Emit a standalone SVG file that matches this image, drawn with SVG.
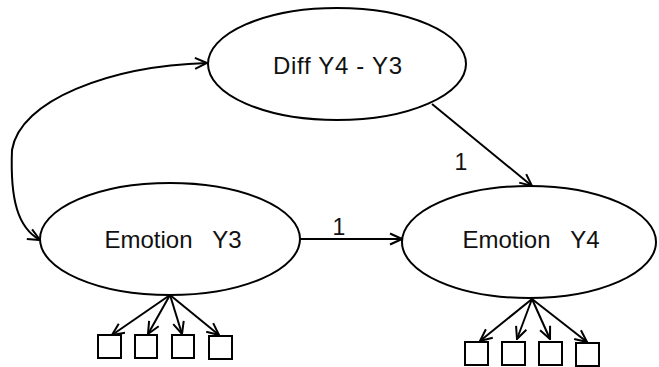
<svg xmlns="http://www.w3.org/2000/svg" width="659" height="367" viewBox="0 0 659 367">
<style>
.n{fill:#fff;stroke:#000;stroke-width:2}
.t{font-family:"Liberation Sans",Arial,sans-serif;font-size:24px;fill:#111;text-anchor:middle}
.l{font-family:"Liberation Sans",Arial,sans-serif;font-size:23px;fill:#111;text-anchor:middle}
.c{fill:none;stroke:#000;stroke-width:2}
.b{fill:#fff;stroke:#000;stroke-width:2}
</style>
<defs>
<marker id="a" viewBox="0 0 14 14" refX="13" refY="7" markerWidth="14" markerHeight="14" markerUnits="userSpaceOnUse" orient="auto-start-reverse">
<path d="M1,1.5 L13,7 L1,12.5" fill="none" stroke="#000" stroke-width="2"/>
</marker>
</defs>
<g id="connectors">
<path class="c" d="M207,63 C110,66 20,100 12,150 C10,200 18,228 40,240" marker-start="url(#a)" marker-end="url(#a)"/>
<line class="c" x1="300" y1="239" x2="402" y2="239" marker-end="url(#a)"/>
<line class="c" x1="432" y1="104" x2="532" y2="186" marker-end="url(#a)"/>
<line class="c" x1="170" y1="295" x2="112" y2="335" marker-end="url(#a)"/>
<line class="c" x1="170" y1="295" x2="148" y2="334" marker-end="url(#a)"/>
<line class="c" x1="170" y1="295" x2="182" y2="334" marker-end="url(#a)"/>
<line class="c" x1="170" y1="295" x2="219" y2="335" marker-end="url(#a)"/>
<line class="c" x1="532" y1="299" x2="480" y2="341" marker-end="url(#a)"/>
<line class="c" x1="532" y1="299" x2="517" y2="339" marker-end="url(#a)"/>
<line class="c" x1="532" y1="299" x2="550" y2="339" marker-end="url(#a)"/>
<line class="c" x1="532" y1="299" x2="587" y2="342" marker-end="url(#a)"/>
<text class="l" x="339" y="235">1</text>
<text class="l" x="461" y="170">1</text>
</g>
<g id="diff">
<ellipse class="n" cx="337" cy="64" rx="129" ry="56"/>
<text class="t" x="337.5" y="74" textLength="129" lengthAdjust="spacing" xml:space="preserve">Diff Y4 - Y3</text>
</g>
<g id="emotionY3">
<ellipse class="n" cx="170" cy="239" rx="130" ry="56"/>
<text class="t" x="173" y="248" xml:space="preserve">Emotion   Y3</text>
</g>
<g id="emotionY4">
<ellipse class="n" cx="529" cy="242" rx="127" ry="56"/>
<text class="t" x="531" y="248" xml:space="preserve">Emotion   Y4</text>
</g>
<g id="y3items">
<rect class="b" x="98" y="335" width="23" height="23"/>
<rect class="b" x="135" y="335" width="22" height="23"/>
<rect class="b" x="172" y="335" width="22" height="23"/>
<rect class="b" x="209" y="336" width="23" height="23"/>
</g>
<g id="y4items">
<rect class="b" x="465" y="342" width="23" height="23"/>
<rect class="b" x="502" y="342" width="23" height="23"/>
<rect class="b" x="539" y="342" width="23" height="23"/>
<rect class="b" x="576" y="343" width="23" height="23"/>
</g>
</svg>
